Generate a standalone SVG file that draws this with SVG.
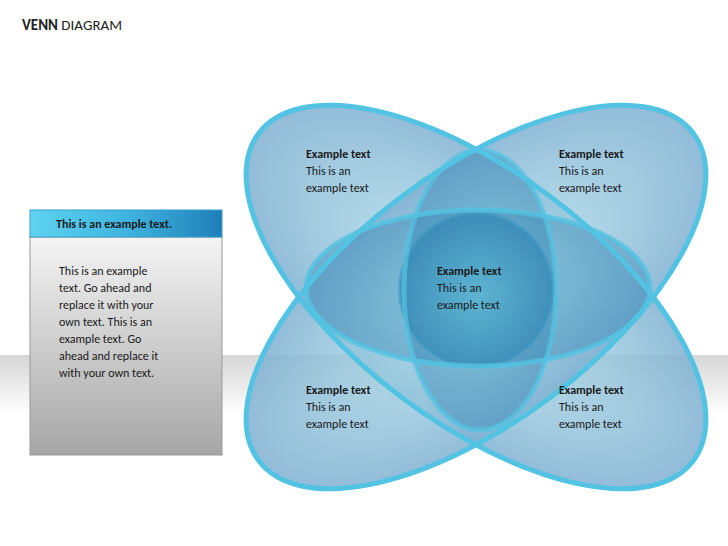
<svg xmlns="http://www.w3.org/2000/svg" width="728" height="546" viewBox="0 0 728 546">
<defs>
<linearGradient id="bg" x1="0" y1="0" x2="0" y2="1"><stop offset="0" stop-color="#d6d6d6"/><stop offset="1" stop-color="#ffffff"/></linearGradient>
<linearGradient id="hdr" x1="0" y1="0" x2="1" y2="0"><stop offset="0" stop-color="#5fd3ef"/><stop offset="0.5" stop-color="#3fb4e0"/><stop offset="1" stop-color="#1e7fb8"/></linearGradient>
<linearGradient id="body" x1="0" y1="0" x2="0" y2="1"><stop offset="0" stop-color="#f4f4f4"/><stop offset="1" stop-color="#a6a6a6"/></linearGradient>
<radialGradient id="pet" cx="0.5" cy="0.5" r="0.5"><stop offset="0" stop-color="#b4e4ec" stop-opacity="0.75"/><stop offset="1" stop-color="#7fb0d2" stop-opacity="0.85"/></radialGradient>
<radialGradient id="mid" cx="0.5" cy="0.5" r="0.5"><stop offset="0" stop-color="#3e9ec6" stop-opacity="0.35"/><stop offset="1" stop-color="#2d7fb0" stop-opacity="0.4"/></radialGradient>
<radialGradient id="circ" cx="0.5" cy="0.55" r="0.5"><stop offset="0" stop-color="#3aa6c8" stop-opacity="0.35"/><stop offset="1" stop-color="#2a7fb0" stop-opacity="0.55"/></radialGradient>
</defs>
<style>
.t{font-family:Carlito,"Liberation Sans",sans-serif;font-size:12px;fill:#1a1a1a}
.b{font-weight:bold}
.edge{stroke:#52c3e2;stroke-width:5;fill:none}
</style>
<rect width="728" height="546" fill="#fff"/>
<rect x="0" y="355" width="728" height="60" fill="url(#bg)"/>
<text x="22" y="30" style="font-family:Carlito,'Liberation Sans',sans-serif;font-size:15px;fill:#222"><tspan font-weight="bold">VENN</tspan> DIAGRAM</text>
<g id="panel">
<rect x="30" y="237" width="192" height="218" fill="url(#body)" stroke="#999" stroke-width="1"/>
<rect x="30" y="210" width="192" height="27" fill="url(#hdr)" stroke="#3a9ccc" stroke-width="1"/>
<text class="t b" x="56" y="228">This is an example text.</text>
<text class="t" x="59" y="275">This is an example</text>
<text class="t" x="59" y="292">text. Go ahead and</text>
<text class="t" x="59" y="309">replace it with your</text>
<text class="t" x="59" y="326">own text. This is an</text>
<text class="t" x="59" y="343">example text. Go</text>
<text class="t" x="59" y="360">ahead and replace it</text>
<text class="t" x="59" y="377">with your own text.</text>
</g>
<g id="ellipse1"><ellipse cx="476" cy="297" rx="272" ry="125" transform="rotate(37 476 297)" fill="url(#pet)"/></g>
<g id="ellipse2"><ellipse cx="476" cy="297" rx="272" ry="125" transform="rotate(-37 476 297)" fill="url(#pet)"/></g>
<g id="lens-h"><ellipse cx="478" cy="288" rx="172" ry="78" fill="url(#mid)"/></g>
<g id="lens-v"><ellipse cx="480" cy="290" rx="76" ry="140" fill="url(#mid)"/></g>
<g id="center"><circle cx="476" cy="290" r="76" fill="url(#circ)" stroke="#3a95c0" stroke-width="4" stroke-opacity="0.6"/></g>
<g id="edges">
<ellipse class="edge" cx="476" cy="297" rx="272" ry="125" transform="rotate(37 476 297)"/>
<ellipse class="edge" cx="476" cy="297" rx="272" ry="125" transform="rotate(-37 476 297)"/>
<ellipse class="edge" cx="478" cy="288" rx="172" ry="78" stroke-opacity="0.8"/>
<ellipse class="edge" cx="480" cy="290" rx="76" ry="140" stroke="#3a9cc6" stroke-opacity="0.7"/>
</g>
<g id="labels">
<text class="t b" x="306" y="158">Example text</text><text class="t" x="306" y="175">This is an</text><text class="t" x="306" y="192">example text</text>
<text class="t b" x="559" y="158">Example text</text><text class="t" x="559" y="175">This is an</text><text class="t" x="559" y="192">example text</text>
<text class="t b" x="437" y="275">Example text</text><text class="t" x="437" y="292">This is an</text><text class="t" x="437" y="309">example text</text>
<text class="t b" x="306" y="394">Example text</text><text class="t" x="306" y="411">This is an</text><text class="t" x="306" y="428">example text</text>
<text class="t b" x="559" y="394">Example text</text><text class="t" x="559" y="411">This is an</text><text class="t" x="559" y="428">example text</text>
</g>
</svg>
